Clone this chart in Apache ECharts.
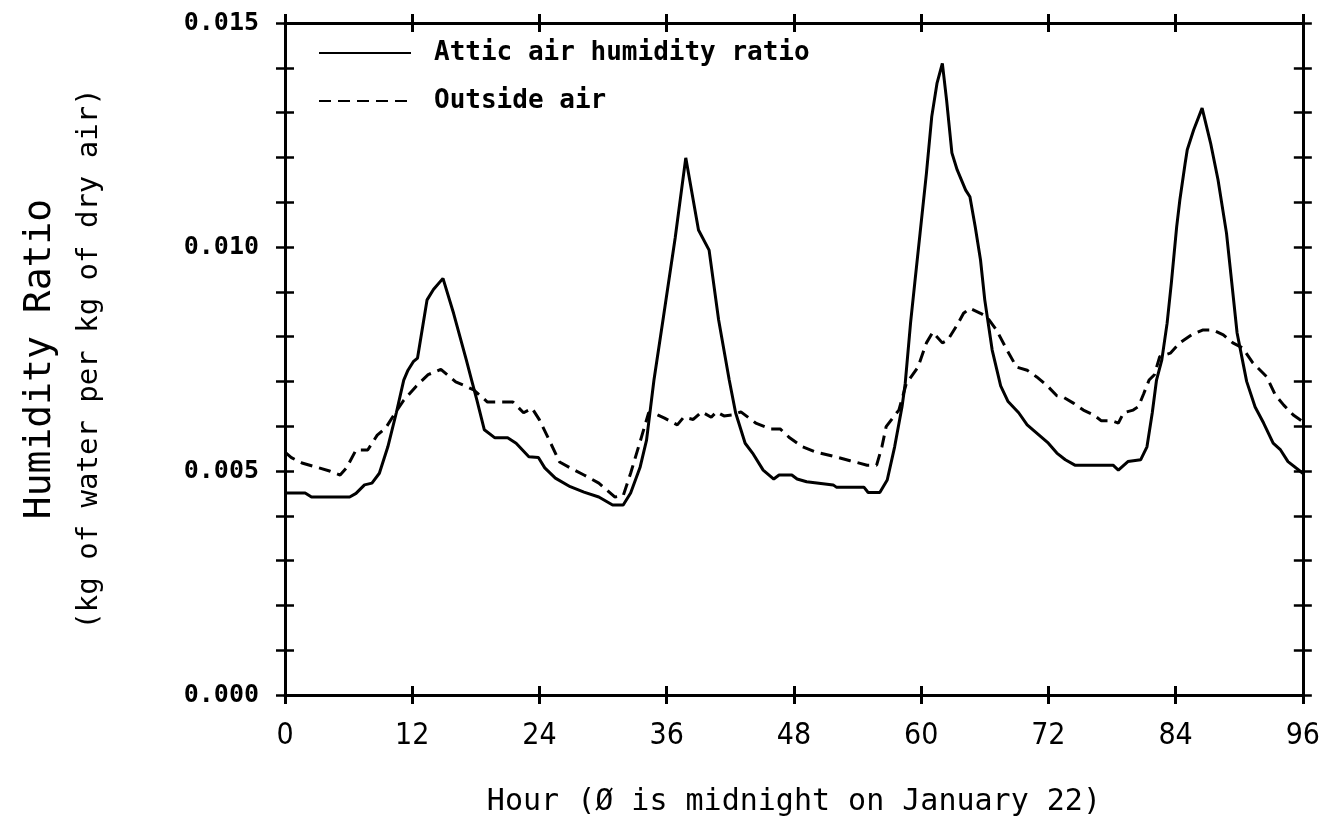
<!DOCTYPE html>
<html>
<head>
<meta charset="utf-8">
<script src="https://cdn.jsdelivr.net/npm/echarts@6/dist/echarts.min.js"></script>
<style>
html,body{margin:0;padding:0;background:#fff;}
#chart{width:1323px;height:826px;}
</style>
</head>
<body>
<div id="chart"></div>
<script>
// ---- data (hours since midnight Jan 22, humidity ratio kg/kg) ----
const atticHours = [0,1.9,2.5,6.1,6.7,7.5,8.2,8.9,9.7,10.5,11.2,11.6,12.1,12.5,13.4,14.0,14.9,15.9,17.1,17.6,18.1,18.8,19.8,21.0,21.8,23.0,23.9,24.5,25.5,26.9,28.2,29.6,30.9,31.9,32.6,33.5,34.1,34.8,35.7,36.8,37.8,39.0,40.0,40.9,41.9,42.5,43.4,44.1,45.1,46.1,46.6,47.8,48.3,49.2,51.7,52.0,54.6,55.0,56.1,56.8,57.5,58.2,58.5,59.0,59.4,59.9,60.5,61.0,61.5,62.0,62.4,62.9,63.4,64.2,64.6,65.1,65.6,66.0,66.7,67.5,68.2,69.2,70.0,72.0,72.8,73.6,74.5,78.1,78.6,79.5,80.7,81.3,81.8,82.2,82.7,83.2,83.6,84.1,84.4,84.9,85.1,85.7,86.5,87.3,88.0,88.8,89.3,89.8,90.3,90.7,91.5,92.3,93.2,93.9,94.6,96.0];
const atticValues = [0.00451,0.00451,0.00442,0.00442,0.00450,0.00469,0.00473,0.00495,0.00554,0.00630,0.00703,0.00725,0.00744,0.00752,0.00882,0.00905,0.00930,0.00852,0.00748,0.00703,0.00658,0.00592,0.00574,0.00574,0.00562,0.00532,0.00530,0.00507,0.00484,0.00465,0.00453,0.00442,0.00424,0.00424,0.00451,0.00509,0.00569,0.00703,0.00845,0.01020,0.01199,0.01038,0.00993,0.00837,0.00703,0.00630,0.00562,0.00540,0.00502,0.00482,0.00491,0.00491,0.00482,0.00476,0.00469,0.00464,0.00464,0.00452,0.00452,0.00480,0.00554,0.00644,0.00696,0.00830,0.00920,0.01031,0.01165,0.01291,0.01366,0.01410,0.01328,0.01210,0.01172,0.01127,0.01112,0.01045,0.00971,0.00882,0.00770,0.00690,0.00655,0.00630,0.00603,0.00562,0.00540,0.00525,0.00513,0.00513,0.00502,0.00521,0.00525,0.00554,0.00630,0.00703,0.00748,0.00830,0.00920,0.01045,0.01105,0.01187,0.01217,0.01261,0.01310,0.01232,0.01150,0.01031,0.00920,0.00808,0.00748,0.00700,0.00643,0.00607,0.00562,0.00547,0.00521,0.00495];

const outsideHours = [0,0.6,1.6,2.9,4.2,5.2,5.8,6.7,7.8,8.7,9.5,10.4,11.2,12.4,13.5,14.7,16.1,16.8,17.8,19.1,21.5,22.5,23.3,24.0,25.0,25.9,26.9,28.2,29.6,31.1,31.9,32.6,33.6,34.3,35.0,35.8,37.0,37.6,38.5,39.3,40.2,40.7,41.4,42.2,43.0,44.4,45.8,46.7,47.6,48.8,50.1,51.7,53.3,54.9,55.8,56.3,56.7,57.4,57.9,58.6,59.7,60.5,61.1,62.0,62.5,63.4,64.0,64.6,65.6,66.2,67.1,68.1,69.0,70.0,70.9,71.9,72.8,73.4,74.4,75.3,76.3,77.0,78.0,78.6,79.1,80.0,80.5,81.0,81.5,82.0,82.5,83.5,84.4,85.5,86.6,87.5,88.5,89.4,90.3,91.3,92.6,93.4,94.2,95.1,96.0];
const outsideValues = [0.00542,0.00530,0.00518,0.00509,0.00500,0.00491,0.00507,0.00547,0.00547,0.00580,0.00596,0.00630,0.00658,0.00690,0.00715,0.00727,0.00699,0.00692,0.00681,0.00654,0.00654,0.00630,0.00640,0.00614,0.00565,0.00520,0.00507,0.00491,0.00473,0.00442,0.00445,0.00495,0.00574,0.00630,0.00627,0.00618,0.00603,0.00620,0.00615,0.00632,0.00620,0.00632,0.00623,0.00625,0.00632,0.00607,0.00594,0.00594,0.00574,0.00554,0.00542,0.00533,0.00523,0.00513,0.00513,0.00554,0.00599,0.00621,0.00636,0.00695,0.00732,0.00786,0.00810,0.00786,0.00792,0.00826,0.00852,0.00863,0.00852,0.00844,0.00815,0.00770,0.00732,0.00725,0.00710,0.00690,0.00668,0.00665,0.00651,0.00636,0.00625,0.00612,0.00612,0.00607,0.00630,0.00636,0.00644,0.00673,0.00703,0.00715,0.00755,0.00763,0.00786,0.00804,0.00815,0.00815,0.00804,0.00786,0.00775,0.00741,0.00710,0.00670,0.00647,0.00625,0.00610];

const seriesNames = ['Attic air humidity ratio', 'Outside air'];
const xTicks = [0, 12, 24, 36, 48, 60, 72, 84, 96];
const yTickLabels = ['0.000', '0.005', '0.010', '0.015'];
const xTitle = 'Hour (Ø is midnight on January 22)';
const yTitle = 'Humidity Ratio';
const ySubTitle = '(kg of water per kg of dry air)';

// ---- chart ----
const pairs = (xs, ys) => xs.map((x, i) => [x, ys[i]]);
const INK = '#000';
const AX_W = 3;

function tickX(pos, inside) {
  return {
    type: 'value', min: 0, max: 96, interval: 12, position: pos,
    axisLine: { show: true, onZero: false, lineStyle: { color: INK, width: AX_W } },
    axisTick: { show: true, inside: inside, length: 9, lineStyle: { color: INK, width: 3 } },
    axisLabel: { show: false }, splitLine: { show: false }
  };
}
function tickY(pos, inside) {
  return {
    type: 'value', min: 0, max: 0.015, interval: 0.001, position: pos,
    axisLine: { show: true, onZero: false, lineStyle: { color: INK, width: AX_W } },
    axisTick: { show: true, inside: inside, length: 9, lineStyle: { color: INK, width: 2.5 } },
    axisLabel: { show: false }, splitLine: { show: false }
  };
}

const chart = echarts.init(document.getElementById('chart'), null, { renderer: 'canvas' });
chart.setOption({
  backgroundColor: '#fff',
  animation: false,
  grid: { left: 285, right: 20, top: 23, bottom: 131, containLabel: false },
  legend: {
    orient: 'vertical', left: 313, top: 35,
    itemWidth: 92, itemHeight: 16, itemGap: 22,
    itemStyle: { opacity: 0 },
    textStyle: { fontFamily: 'DejaVu Sans Mono', fontSize: 26, fontWeight: 'bold', color: INK, padding: [0, 0, 0, 18] },
    data: seriesNames
  },
  xAxis: [
    {
      type: 'value', min: 0, max: 96, interval: 12, position: 'bottom',
      name: xTitle, nameLocation: 'middle', nameGap: 92,
      nameTextStyle: { fontFamily: 'DejaVu Sans Mono', fontSize: 30, color: INK },
      axisLine: { show: true, onZero: false, lineStyle: { color: INK, width: AX_W } },
      axisTick: { show: true, inside: false, length: 9, lineStyle: { color: INK, width: 3 } },
      axisLabel: {
        margin: 26, color: INK, fontSize: 30, fontFamily: "'Liberation Sans Narrow','DejaVu Sans Condensed','Liberation Sans',sans-serif",
        formatter: v => (xTicks.indexOf(v) >= 0 ? String(v) : '')
      },
      splitLine: { show: false }
    },
    tickX('bottom', true),
    tickX('top', true),
    tickX('top', false)
  ],
  yAxis: [
    {
      type: 'value', min: 0, max: 0.015, interval: 0.005, position: 'left',
      name: '{a|' + yTitle + '}\n{b|' + ySubTitle + '}',
      nameLocation: 'middle', nameGap: 176, nameRotate: 90,
      nameTextStyle: {
        color: INK, align: 'center',
        rich: {
          a: { fontFamily: 'DejaVu Sans Mono', fontSize: 38, lineHeight: 58, color: INK },
          b: { fontFamily: 'DejaVu Sans Mono', fontSize: 29, lineHeight: 40, color: INK }
        }
      },
      axisLine: { show: true, onZero: false, lineStyle: { color: INK, width: AX_W } },
      axisTick: { show: false },
      axisLabel: {
        margin: 26, color: INK, fontSize: 25, fontWeight: 'bold', fontFamily: 'DejaVu Sans Mono',
        formatter: v => { const i = Math.round(v / 0.005); return yTickLabels[i] || ''; }
      },
      splitLine: { show: false }
    },
    tickY('left', true),
    tickY('left', false),
    tickY('right', true),
    tickY('right', false)
  ],
  series: [
    {
      name: seriesNames[0], type: 'line', xAxisIndex: 0, yAxisIndex: 0,
      data: pairs(atticHours, atticValues), showSymbol: false, symbol: 'none',
      lineStyle: { color: INK, width: 3, type: 'solid' }, itemStyle: { color: INK }
    },
    {
      name: seriesNames[1], type: 'line', xAxisIndex: 0, yAxisIndex: 0,
      data: pairs(outsideHours, outsideValues), showSymbol: false, symbol: 'none',
      lineStyle: { color: INK, width: 3, type: [12, 7] }, itemStyle: { color: INK }
    }
  ]
});
</script>
</body>
</html>
